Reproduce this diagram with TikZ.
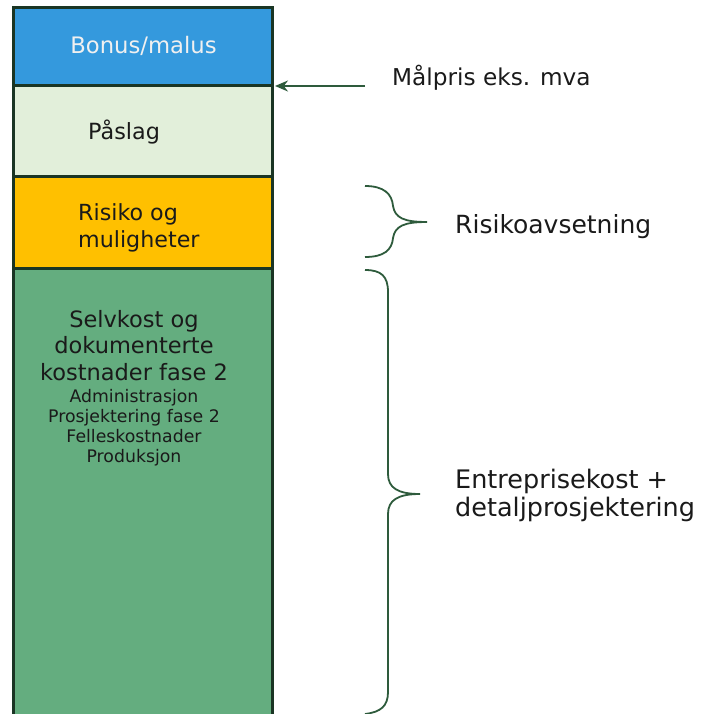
\documentclass[tikz,border=0pt]{standalone}
\usepackage{fontspec}
\setmainfont{DejaVu Sans}
\usetikzlibrary{arrows.meta}
\definecolor{edge}{HTML}{1A3524}
\definecolor{bluebox}{HTML}{3499DD}
\definecolor{lightbox}{HTML}{E2EFDA}
\definecolor{amberbox}{HTML}{FFC000}
\definecolor{greenbox}{HTML}{64AD7F}
\definecolor{ink}{HTML}{1A1A1A}
\definecolor{bracecol}{HTML}{2E5B3C}
\tikzset{
  blockbox/.style={draw=edge, line width=3pt, minimum width=259pt, inner sep=0pt, outer sep=0pt},
  lbl/.style={inner sep=0pt, text=ink},
  bracepath/.style={draw=bracecol, line width=1.8pt},
  pointer/.style={draw=bracecol, line width=1.8pt, -{Stealth[length=13pt,width=11pt]}}
}
\begin{document}
\begin{tikzpicture}[x=1pt,y=-1pt]
\clip (0,0) rectangle (701,714);
\fill[white] (0,0) rectangle (701,714);
% boxes
\node[blockbox, fill=greenbox, minimum height=460pt] (green) at (142.5,498) {};
\node[blockbox, fill=amberbox, minimum height=91pt] (risk) at (142.5,222.5) {};
\node[blockbox, fill=lightbox, minimum height=91pt] (mark) at (142.5,131.5) {};
\node[blockbox, fill=bluebox, minimum height=78pt] (bonus) at (142.5,47) {};
% texts in boxes
\node[lbl, text=white!94!black, anchor=base, font=\fontsize{22.7}{27}\selectfont] (tbonus) at (143.5,54) {Bonus/malus};
\node[lbl, anchor=base west, font=\fontsize{22.3}{27}\selectfont] (tmark) at (88,140) {Påslag};
\node[lbl, anchor=north west, align=left, font=\fontsize{22.2}{27}\selectfont] (trisk) at (78,203) {Risiko og\\muligheter};
\node[lbl, anchor=north, align=center, font=\fontsize{22.5}{26.7}\selectfont] (tgreen) at (134,310) {Selvkost og\\dokumenterte\\kostnader fase 2};
\node[lbl, anchor=north, align=center, font=\fontsize{17.3}{20}\selectfont] (tgreensub) at (134,389) {Administrasjon\\Prosjektering fase 2\\Felleskostnader\\Produksjon};
% right-hand labels
\node[lbl, anchor=base west, font=\fontsize{23.2}{28}\selectfont] (tmal) at (392,86) {Målpris eks. mva};
\node[lbl, anchor=base west, font=\fontsize{25}{28}\selectfont] (trisav) at (455,233) {Risikoavsetning};
\node[lbl, anchor=north west, align=left, font=\fontsize{25.5}{28}\selectfont] (tentr) at (455,469) {Entreprisekost +\\detaljprosjektering};
% arrow
\coordinate (arrstart) at (365,86);
\draw[pointer] (arrstart) -- ([xshift=3pt]bonus.south east);
% small brace
\path[bracepath] (365,186) .. controls (384,186) and (392,194) .. (393,206)
  .. controls (395,218) and (404,222) .. (427,222)
  .. controls (404,222) and (395,226) .. (393,238)
  .. controls (392,250) and (384,257) .. (365,257);
% big brace
\path[bracepath] (365,270) .. controls (381,270) and (388,276) .. (388,292)
  -- (388,474) .. controls (388,488) and (398,494) .. (420,494)
  .. controls (398,494) and (388,500) .. (388,514)
  -- (388,692) .. controls (388,706) and (381,712) .. (365,714);
\end{tikzpicture}
\end{document}
